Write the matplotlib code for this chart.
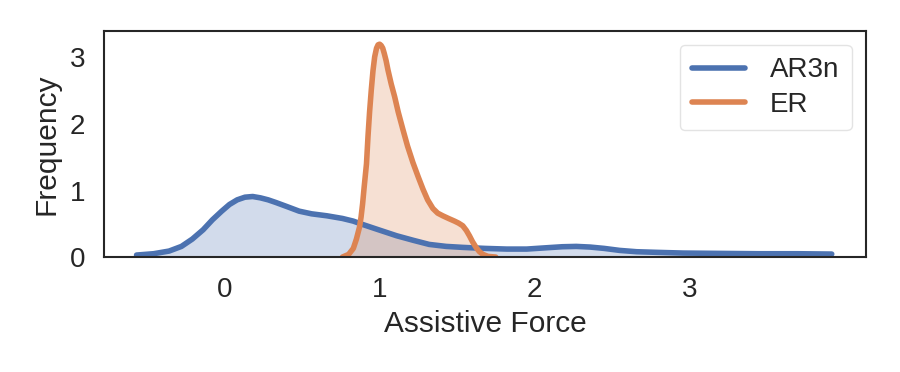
import numpy as np
import matplotlib
matplotlib.use("Agg")
import matplotlib.pyplot as plt
import seaborn as sns

# Density curves
ar3n_x = [-0.57, -0.46, -0.36, -0.28, -0.21, -0.14, -0.08, -0.02, 0.03, 0.08,
          0.13, 0.18, 0.23, 0.28, 0.33, 0.40, 0.48, 0.56, 0.66, 0.76, 0.83,
          0.89, 0.98, 1.11, 1.22, 1.32, 1.43, 1.54, 1.68, 1.82, 1.95, 2.08,
          2.18, 2.27, 2.36, 2.45, 2.55, 2.66, 2.80, 2.96, 3.20, 3.45, 3.70, 3.92]
ar3n_y = [0.03, 0.05, 0.09, 0.16, 0.27, 0.41, 0.56, 0.69, 0.79, 0.86,
          0.90, 0.91, 0.89, 0.86, 0.82, 0.76, 0.69, 0.65, 0.62, 0.58, 0.54,
          0.49, 0.42, 0.32, 0.25, 0.19, 0.16, 0.145, 0.13, 0.12, 0.12, 0.14,
          0.155, 0.16, 0.15, 0.13, 0.10, 0.08, 0.07, 0.06, 0.055, 0.05, 0.05, 0.045]

er_x = [0.76, 0.80, 0.83, 0.85, 0.87, 0.88, 0.89, 0.90, 0.915, 0.925, 0.935,
        0.946, 0.957, 0.968, 0.980, 0.990, 1.000, 1.010, 1.020, 1.030, 1.042,
        1.054, 1.075, 1.097, 1.12, 1.15, 1.18, 1.215, 1.25, 1.28, 1.31, 1.344,
        1.375, 1.408, 1.445, 1.484, 1.51, 1.537, 1.56, 1.58, 1.60, 1.624,
        1.645, 1.667, 1.70, 1.75]
er_y = [0.00, 0.04, 0.13, 0.27, 0.45, 0.60, 0.80, 1.05, 1.40, 1.82, 2.18,
        2.51, 2.80, 3.01, 3.14, 3.19, 3.20, 3.18, 3.14, 3.06, 2.95,
        2.81, 2.60, 2.41, 2.18, 1.92, 1.67, 1.42, 1.20, 1.02, 0.86, 0.73,
        0.66, 0.62, 0.58, 0.54, 0.51, 0.47, 0.40, 0.32, 0.23, 0.14,
        0.08, 0.04, 0.01, 0.00]

labels = ["AR3n", "ER"]

sns.set_style("white")
plt.rcParams['font.family'] = ['Liberation Sans', 'DejaVu Sans']

colors = sns.color_palette("deep")

fig = plt.figure(figsize=(9, 3.72), dpi=100)
ax = fig.add_axes([0.1156, 0.309, 0.8464, 0.608])

for xs, ys, label, color in [(ar3n_x, ar3n_y, labels[0], colors[0]),
                             (er_x, er_y, labels[1], colors[1])]:
    ax.fill_between(xs, ys, 0, color=color, alpha=0.25, linewidth=0)
    ax.plot(xs, ys, color=color, linewidth=4, label=label,
            solid_capstyle='round', solid_joinstyle='round')

ax.set_xlim(-0.78, 4.14)
ax.set_ylim(0, 3.40)
ax.set_xticks([0, 1, 2, 3])
ax.set_yticks([0, 1, 2, 3])
ax.tick_params(axis='x', labelsize=20, pad=11)
ax.tick_params(axis='y', labelsize=20, pad=10)

for spine in ax.spines.values():
    spine.set_color('#262626')
    spine.set_linewidth(1.5)

ax.set_xlabel("Assistive Force", fontsize=21.5, labelpad=5)
ax.set_ylabel("Frequency", fontsize=21.5, labelpad=7)

leg = ax.legend(loc='upper right', fontsize=20, handlelength=1.9,
                borderpad=0.45, labelspacing=0.3, handletextpad=0.9,
                borderaxespad=0.5)
leg.get_frame().set_edgecolor('#dddddd')

fig.savefig("out.png", dpi=100)
